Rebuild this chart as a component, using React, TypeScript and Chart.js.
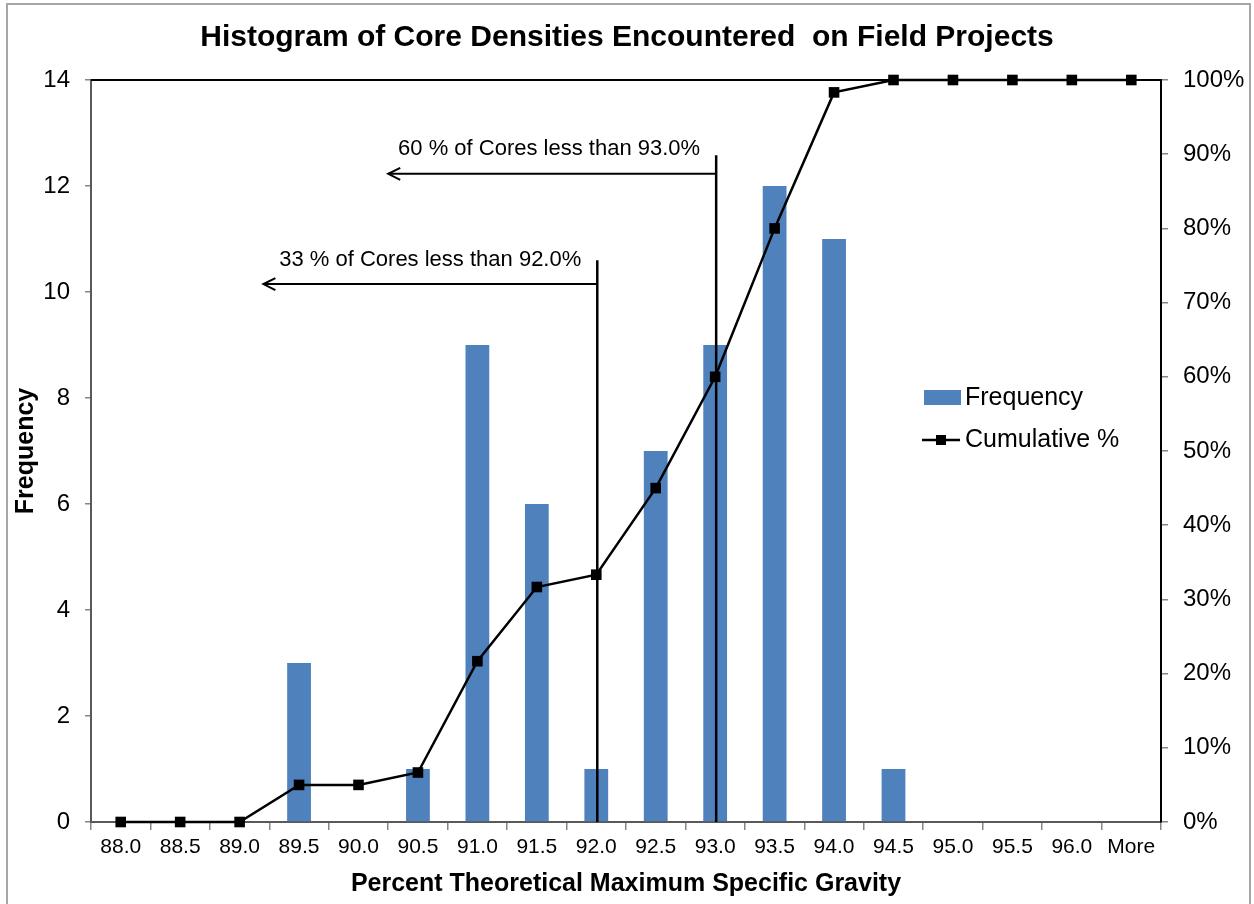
import React, { useEffect, useRef } from 'react';
import { Chart, registerables } from 'chart.js';

Chart.register(...registerables);

const FONT = '"Liberation Sans", Arial, Helvetica, sans-serif';

const chartTitle = 'Histogram of Core Densities Encountered  on Field Projects';
const xAxisTitle = 'Percent Theoretical Maximum Specific Gravity';
const yAxisTitle = 'Frequency';

const categories = [
  '88.0', '88.5', '89.0', '89.5', '90.0', '90.5', '91.0', '91.5', '92.0',
  '92.5', '93.0', '93.5', '94.0', '94.5', '95.0', '95.5', '96.0', 'More',
];
const frequency = [0, 0, 0, 3, 0, 1, 9, 6, 1, 7, 9, 12, 11, 1, 0, 0, 0, 0];
const cumulativePercent = [
  0, 0, 0, 5, 5, 6.67, 21.67, 31.67, 33.33, 45, 60, 80, 98.33, 100, 100, 100, 100, 100,
];
const frequencyTicks = [0, 2, 4, 6, 8, 10, 12, 14];
const percentTicks = [0, 10, 20, 30, 40, 50, 60, 70, 80, 90, 100];

// Cut-off markers (category, top of line and arrow in frequency units, arrow tip as category index)
const cutoffCategories = ['92.0', '93.0'];
const cutoffLabels = ['33 % of Cores less than 92.0%', '60 % of Cores less than 93.0%'];
const cutoffLineTops = [10.6, 12.58];
const cutoffArrowLevels = [10.15, 12.23];
const cutoffArrowTips = [2.4, 4.5];
const cutoffLabelLevels = [10.5, 12.58];

const BAR_COLOR = '#4F81BD';

const decorPlugin = {
  id: 'decor',
  beforeDraw(chart: any) {
    const { ctx, width, height } = chart;
    ctx.save();
    ctx.fillStyle = '#ffffff';
    ctx.fillRect(0, 0, width, height);
    ctx.strokeStyle = '#a6a6a6';
    ctx.lineWidth = 2;
    ctx.strokeRect(7, 4, width - 11, height + 20);
    ctx.restore();
  },
  afterDatasetDraw(chart: any, args: any) {
    if (args.index !== 0) return;
    const { ctx } = chart;
    const xs = chart.scales.x;
    const ys = chart.scales.y;
    const bottom = chart.chartArea.bottom;
    ctx.save();
    ctx.strokeStyle = '#000';
    ctx.fillStyle = '#000';
    cutoffCategories.forEach((cat, i) => {
      const x = xs.getPixelForValue(categories.indexOf(cat)) + 1;
      const top = ys.getPixelForValue(cutoffLineTops[i]);
      const ay = ys.getPixelForValue(cutoffArrowLevels[i]);
      const tip = xs.getPixelForValue(cutoffArrowTips[i]);
      ctx.lineWidth = 2.5;
      ctx.beginPath();
      ctx.moveTo(x, top);
      ctx.lineTo(x, bottom);
      ctx.stroke();
      ctx.lineWidth = 2;
      ctx.beginPath();
      ctx.moveTo(x, ay);
      ctx.lineTo(tip, ay);
      ctx.stroke();
      ctx.beginPath();
      ctx.moveTo(tip + 12, ay - 6);
      ctx.lineTo(tip, ay);
      ctx.lineTo(tip + 12, ay + 6);
      ctx.stroke();
      ctx.font = `22px ${FONT}`;
      ctx.textAlign = 'right';
      ctx.textBaseline = 'alphabetic';
      ctx.fillText(cutoffLabels[i], x - 16, ys.getPixelForValue(cutoffLabelLevels[i]));
    });
    ctx.restore();
  },
  afterDraw(chart: any) {
    const { ctx, chartArea } = chart;
    ctx.save();
    // title
    ctx.fillStyle = '#000';
    ctx.font = `bold 30px ${FONT}`;
    ctx.textAlign = 'center';
    ctx.textBaseline = 'alphabetic';
    ctx.fillText(chartTitle, chart.width / 2, 46);
    // legend
    const lx = chartArea.right - 239;
    const ly1 = chartArea.top + 318;
    const ly2 = chartArea.top + 360;
    const ds = chart.data.datasets;
    ctx.fillStyle = ds[0].backgroundColor;
    ctx.fillRect(lx + 2, ly1 - 8, 37, 15);
    ctx.strokeStyle = '#000';
    ctx.lineWidth = 2.5;
    ctx.beginPath();
    ctx.moveTo(lx, ly2);
    ctx.lineTo(lx + 38, ly2);
    ctx.stroke();
    ctx.fillStyle = '#000';
    ctx.fillRect(lx + 14, ly2 - 5, 10, 10);
    ctx.font = `25px ${FONT}`;
    ctx.textAlign = 'left';
    ctx.textBaseline = 'middle';
    ctx.fillText(ds[0].label, lx + 43, ly1);
    ctx.fillText(ds[1].label, lx + 43, ly2);
    ctx.restore();
  },
};

// top border of the plot area, drawn before the line dataset so markers sit on top
const topBorderPlugin = {
  id: 'topBorder',
  beforeDatasetsDraw(chart: any) {
    const { ctx, chartArea } = chart;
    ctx.save();
    ctx.strokeStyle = '#000';
    ctx.lineWidth = 2;
    ctx.beginPath();
    ctx.moveTo(chartArea.left, chartArea.top);
    ctx.lineTo(chartArea.right + 1, chartArea.top);
    ctx.stroke();
    ctx.restore();
  },
};

export default function App() {
  const ref = useRef<HTMLCanvasElement | null>(null);

  useEffect(() => {
    document.body.style.margin = '0';
    const canvas = ref.current;
    if (!canvas) return;
    const chart = new Chart(canvas, {
      type: 'bar',
      data: {
        labels: categories,
        datasets: [
          {
            type: 'bar',
            label: 'Frequency',
            data: frequency,
            backgroundColor: BAR_COLOR,
            barPercentage: 0.4,
            categoryPercentage: 1.0,
            yAxisID: 'y',
            order: 2,
          } as any,
          {
            type: 'line',
            label: 'Cumulative %',
            data: cumulativePercent,
            borderColor: '#000',
            backgroundColor: '#000',
            borderWidth: 2.5,
            pointStyle: 'rect',
            pointRadius: 7.5,
            pointBackgroundColor: '#000',
            pointBorderColor: '#000',
            pointBorderWidth: 0,
            tension: 0,
            clip: false,
            yAxisID: 'y1',
            order: 1,
          } as any,
        ],
      },
      options: {
        responsive: false,
        animation: false,
        devicePixelRatio: 1,
        layout: { padding: { top: 80, left: 0, right: 0, bottom: 0 } },
        plugins: {
          legend: { display: false },
          title: { display: false },
          tooltip: { enabled: false },
        },
        scales: {
          x: {
            type: 'category',
            grid: {
              offset: true,
              drawOnChartArea: false,
              drawTicks: true,
              tickLength: 8,
              color: '#868686',
              lineWidth: 1.5,
            },
            border: { color: '#595959', width: 2 },
            ticks: {
              font: { family: FONT, size: 21 },
              color: '#000',
              padding: 5,
              maxRotation: 0,
              autoSkip: false,
            },
            title: {
              display: true,
              text: xAxisTitle,
              font: { family: FONT, size: 25, weight: 'bold' },
              color: '#000',
              padding: { top: 0, bottom: 5 },
            },
            afterFit(scale: any) {
              scale.height = 82;
            },
          },
          y: {
            position: 'left',
            min: 0,
            max: 14,
            afterBuildTicks(scale: any) {
              scale.ticks = frequencyTicks.map((v) => ({ value: v }));
            },
            grid: {
              drawOnChartArea: false,
              drawTicks: true,
              tickLength: 6,
              color: '#868686',
              lineWidth: 1.5,
            },
            border: { color: '#595959', width: 2 },
            ticks: {
              font: { family: FONT, size: 24 },
              color: '#000',
              padding: 15,
            },
            title: {
              display: true,
              text: yAxisTitle,
              font: { family: FONT, size: 25, weight: 'bold' },
              color: '#000',
              padding: { top: 11, bottom: 0 },
            },
            afterFit(scale: any) {
              scale.width = 91;
            },
          },
          y1: {
            position: 'right',
            min: 0,
            max: 100,
            afterBuildTicks(scale: any) {
              scale.ticks = percentTicks.map((v) => ({ value: v }));
            },
            grid: {
              drawOnChartArea: false,
              drawTicks: true,
              tickLength: 7,
              color: '#868686',
              lineWidth: 1.5,
            },
            border: { color: '#000', width: 2 },
            ticks: {
              font: { family: FONT, size: 24 },
              color: '#000',
              padding: 15,
              callback: (v: any) => `${v}%`,
            },
            afterFit(scale: any) {
              scale.width = 93;
            },
          },
        },
      } as any,
      plugins: [decorPlugin, topBorderPlugin],
    });
    return () => chart.destroy();
  }, []);

  return (
    <div style={{ position: 'absolute', left: 0, top: 0, width: 1254, height: 904 }}>
      <canvas ref={ref} width={1254} height={904} style={{ width: 1254, height: 904, display: 'block' }} />
    </div>
  );
}
